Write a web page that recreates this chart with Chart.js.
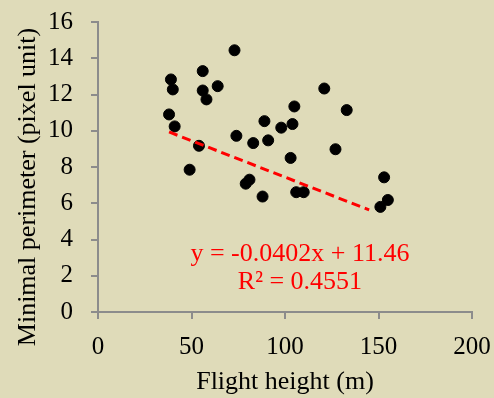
<!DOCTYPE html>
<html>
<head>
<meta charset="utf-8">
<script src="https://cdn.jsdelivr.net/npm/chart.js@4"></script>
<style>
  html, body { margin: 0; padding: 0; background: #dfdbb9; }
  #wrap { width: 494px; height: 398px; }
</style>
</head>
<body>
<div id="wrap"><canvas id="scatterChart" width="494" height="398"></canvas></div>
<script>
// Flight height (m) and minimal perimeter (pixel unit)
const heights = [38, 39, 40, 41, 49, 54, 56, 56, 58, 64, 73, 74, 79, 81, 83, 88, 89, 91, 98, 103, 104, 105, 106, 110, 121, 127, 133, 151, 153, 155];
const perimeters = [10.9, 12.83, 12.28, 10.24, 7.85, 9.17, 13.29, 12.22, 11.73, 12.46, 14.44, 9.72, 7.08, 7.3, 9.32, 6.37, 10.53, 9.47, 10.17, 8.5, 10.37, 11.34, 6.61, 6.61, 12.33, 8.98, 11.14, 5.8, 7.43, 6.18];

// linear trend line (from the chart label)
const slope = -0.0402;
const intercept = 11.46;
const trendX = [38, 145];

const xTicks = [0, 50, 100, 150, 200];
const yTicks = [0, 2, 4, 6, 8, 10, 12, 14, 16];

const serif = "'Liberation Serif', 'Times New Roman', serif";
const axisGray = '#8c8c8c';

const points = heights.map((h, i) => ({ x: h, y: perimeters[i] }));
const trend = trendX.map(x => ({ x: x, y: slope * x + intercept }));

// equation label and y axis title
const extraText = {
    id: 'extraText',
    afterDatasetsDraw(chart) {
        const ctx = chart.ctx;
        const xs = chart.scales.x, ys = chart.scales.y;
        const area = chart.chartArea;
        ctx.save();
        ctx.fillStyle = '#ff0000';
        ctx.font = '26px ' + serif;
        ctx.textAlign = 'center';
        ctx.textBaseline = 'middle';
        ctx.fillText('y = -0.0402x + 11.46', xs.getPixelForValue(108), ys.getPixelForValue(3.2));
        ctx.fillText('R\u00b2 = 0.4551', xs.getPixelForValue(108), ys.getPixelForValue(1.62));

        // y title sits a bit lower than the axis centre, like the original
        ctx.fillStyle = '#000';
        ctx.translate(area.left - 70, (area.top + area.bottom) / 2 + 20);
        ctx.rotate(-Math.PI / 2);
        ctx.fillText('Minimal perimeter (pixel unit)', 0, 0);
        ctx.restore();
    }
};

new Chart(document.getElementById('scatterChart').getContext('2d'), {
    type: 'scatter',
    data: {
        datasets: [{
            label: 'Minimal perimeter',
            data: points,
            backgroundColor: '#000000',
            borderColor: '#000000',
            pointRadius: 5.5,
            order: 2
        }, {
            type: 'line',
            label: 'Linear',
            data: trend,
            borderColor: '#ff0000',
            borderWidth: 3,
            borderDash: [9, 5],
            pointRadius: 0,
            fill: false,
            order: 1
        }]
    },
    options: {
        responsive: false,
        animation: false,
        layout: { padding: { top: 22, right: 22, left: 0, bottom: 0 } },
        plugins: {
            legend: { display: false },
            tooltip: { enabled: false }
        },
        scales: {
            x: {
                type: 'linear',
                min: 0,
                max: 200,
                afterBuildTicks: s => { s.ticks = xTicks.map(v => ({ value: v })); },
                afterFit: s => { s.height = 86; s.paddingLeft = 0; s.paddingRight = 0; },
                grid: { drawOnChartArea: false, drawTicks: true, tickLength: 7, color: axisGray, lineWidth: 2 },
                border: { color: axisGray, width: 2 },
                ticks: { color: '#000', font: { family: serif, size: 25 }, padding: 13, maxRotation: 0 },
                title: { display: true, text: 'Flight height (m)', color: '#000', font: { family: serif, size: 26 }, padding: { top: 0, bottom: 0 } }
            },
            y: {
                type: 'linear',
                min: 0,
                max: 16,
                afterBuildTicks: s => { s.ticks = yTicks.map(v => ({ value: v })); },
                afterFit: s => { s.width = 98; s.paddingTop = 0; s.paddingBottom = 0; },
                grid: { drawOnChartArea: false, drawTicks: true, tickLength: 7, color: axisGray, lineWidth: 2 },
                border: { color: axisGray, width: 2 },
                ticks: { color: '#000', font: { family: serif, size: 25 }, padding: 18 },
                title: { display: false }
            }
        }
    },
    plugins: [extraText]
});
</script>
</body>
</html>
